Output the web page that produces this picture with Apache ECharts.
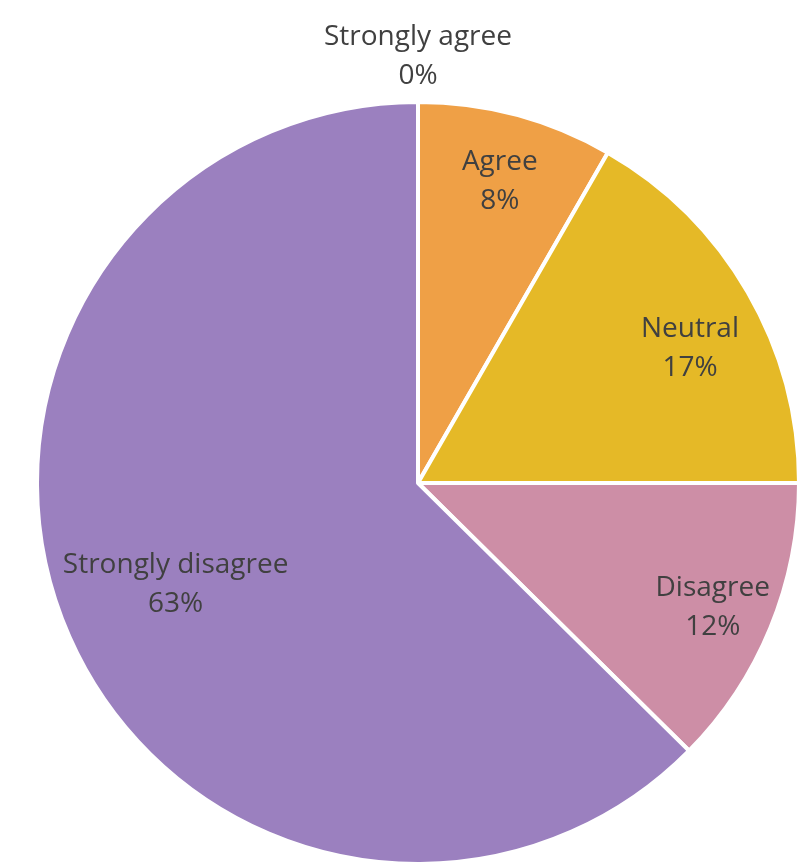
<!DOCTYPE html>
<html>
<head>
<meta charset="utf-8">
<script src="https://cdn.jsdelivr.net/npm/echarts@6/dist/echarts.min.js"></script>
<style>
html,body{margin:0;padding:0;background:#fff;}
#chart{width:798px;height:863px;}
</style>
</head>
<body>
<div id="chart"></div>
<script>
// ---- data ----
const categories = ['Strongly agree', 'Agree', 'Neutral', 'Disagree', 'Strongly disagree'];
const values = [0, 8.3, 16.7, 12.4, 62.6];
const colors = ['#5B9BD5', '#EFA046', '#E5B927', '#CD8EA6', '#9B80BF'];

// ---- layout (label distance from centre as fraction of radius, plus small pixel nudges) ----
const labelRadiusRatio = [1.12, 0.82, 0.80, 0.84, 0.69];
const labelNudge = [[0, 7], [0, 5], [4, 21], [-6, 1], [4, -1]];
const CX = 418, CY = 483, R = 381;

const chart = echarts.init(document.getElementById('chart'), null, {renderer: 'canvas'});
chart.setOption({
  backgroundColor: '#ffffff',
  animation: false,
  series: [{
    type: 'pie',
    center: [CX, CY],
    radius: [0, R],
    startAngle: 90,
    clockwise: true,
    avoidLabelOverlap: false,
    minShowLabelAngle: 0,
    itemStyle: { borderColor: '#ffffff', borderWidth: 4 },
    emphasis: { disabled: true },
    label: {
      show: true,
      position: 'inside',
      color: '#404040',
      fontFamily: 'Open Sans',
      fontSize: 28,
      lineHeight: 39,
      align: 'center',
      formatter: function (p) { return p.name + '\n' + Math.round(p.value) + '%'; }
    },
    labelLine: { show: false },
    labelLayout: function (p) {
      const r = p.labelRect;
      const lx = r.x + r.width / 2, ly = r.y + r.height / 2;
      const k = labelRadiusRatio[p.dataIndex] / 0.5;
      const n = labelNudge[p.dataIndex];
      return { x: CX + (lx - CX) * k + n[0], y: CY + (ly - CY) * k + n[1], align: 'center', verticalAlign: 'middle' };
    },
    data: categories.map(function (c, i) {
      return { name: c, value: values[i], itemStyle: { color: colors[i] } };
    })
  }]
});
</script>
</body>
</html>
